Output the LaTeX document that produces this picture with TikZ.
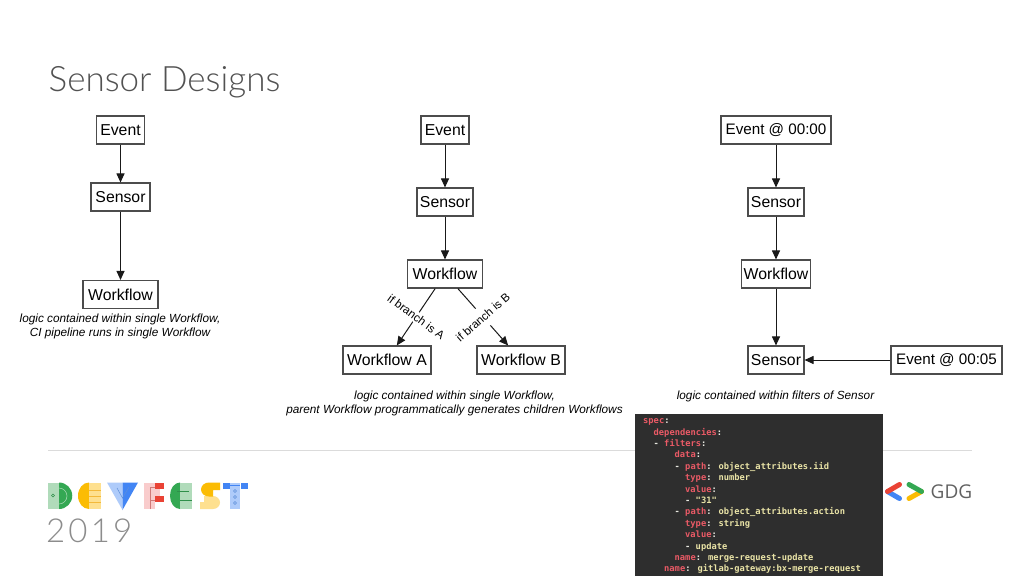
\documentclass[tikz,border=0pt]{standalone}
\usepackage{fontspec}
\setmainfont{Liberation Sans}
\newfontfamily\titlefont{Lato Light}
\newfontfamily\gdgfont{Open Sans}
\newfontfamily\codefont{DejaVu Sans Mono}
\usetikzlibrary{arrows.meta}
\definecolor{codebg}{HTML}{2E2E2E}
\definecolor{codekey}{HTML}{EA5A66}
\definecolor{codeval}{HTML}{E9E3A6}
\definecolor{codepun}{HTML}{E8E8E0}
\definecolor{gGreen}{HTML}{34A853}
\definecolor{gGreenL}{HTML}{B0DBBA}
\definecolor{gGreenD}{HTML}{2F8F4A}
\definecolor{gYellow}{HTML}{FBBC04}
\definecolor{gYellowL}{HTML}{FEE08F}
\definecolor{gYellowD}{HTML}{F3B93A}
\definecolor{gBlue}{HTML}{4285F4}
\definecolor{gBlueL}{HTML}{AECBFA}
\definecolor{gBlueD}{HTML}{5F8FD8}
\definecolor{gRed}{HTML}{EA4335}
\definecolor{gRedL}{HTML}{F9CCCC}
\definecolor{gRedD}{HTML}{D07A78}
\newcommand{\ck}[1]{\textcolor{codekey}{#1}}
\newcommand{\cv}[1]{\textcolor{codeval}{#1}}
\newcommand{\cp}[1]{\textcolor{codepun}{#1}}
\newcommand{\ind}[1]{\hspace*{#1em}}
\tikzset{
  boxn/.style={draw=black!70,line width=1.1pt,inner sep=0pt,minimum height=28pt,font=\fontsize{15.8}{18}\selectfont},
  boxw/.style={boxn,font=\fontsize{15.2}{18}\selectfont},
  arr/.style={line width=1pt,draw=black!90,-{Triangle[length=9pt,width=8pt]}},
  capt/.style={font=\fontsize{11.8}{14}\selectfont\itshape,align=center,inner sep=0pt},
  brl/.style={font=\fontsize{11.6}{14}\selectfont,fill=white,inner sep=0pt,text depth=0pt},
}
\begin{document}
\begin{tikzpicture}[x=1pt,y=-1pt]
\useasboundingbox[fill=white] (0,0) rectangle (1024,576);
\node[anchor=west,inner sep=0pt,text=black!68,font=\fontsize{35}{40}\titlefont] (title) at (48.5,82.5) {Sensor Designs};

% rule
\coordinate (ruleL) at (48,450.5);
\coordinate (ruleR) at (972,450.5);
\draw[black!14,line width=1pt] (ruleL) -- (ruleR);

% column 1
\node[boxn,minimum width=48pt] (a1) at (120.5,130) {Event};
\node[boxn,minimum width=59pt] (a2) at (120.5,197) {Sensor};
\node[boxn,minimum width=75pt] (a3) at (120.5,294.5) {Workflow};
\draw[arr] (a1) -- (a2);
\draw[arr] (a2) -- (a3);
\node[capt] (capa) at (120,326.5) {logic contained within single Workflow,\\CI pipeline runs in single Workflow};

% column 2
\node[boxn,minimum width=48pt] (b1) at (445,130) {Event};
\node[boxn,minimum width=56pt] (b2) at (445,202) {Sensor};
\node[boxn,minimum width=75pt] (b3) at (445,274) {Workflow};
\node[boxn,minimum width=88pt] (b4) at (387,360) {Workflow A};
\node[boxn,minimum width=88pt] (b5) at (521,360) {Workflow B};
\draw[arr] (b1) -- (b2);
\draw[arr] (b2) -- (b3);
\draw[arr] (b3) -- node[brl,rotate=41,minimum height=22pt] {if branch is B} (b5);
\draw[arr] (b3) -- node[brl,rotate=-36,text height=8pt,minimum height=11pt] {if branch is A} (b4);
\node[capt] (capb) at (454.5,403.5) {logic contained within single Workflow,\\parent Workflow programmatically generates children Workflows};

% column 3
\node[boxw,minimum width=110pt] (c1) at (776,130) {Event @ 00:00};
\node[boxn,minimum width=56pt] (c2) at (776,202) {Sensor};
\node[boxn,minimum width=69pt] (c3) at (776,274) {Workflow};
\node[boxn,minimum width=56pt] (c4) at (776,360) {Sensor};
\node[boxw,minimum width=111pt] (c5) at (946.5,360) {Event @ 00:05};
\draw[arr] (c1) -- (c2);
\draw[arr] (c2) -- (c3);
\draw[arr] (c3) -- (c4);
\draw[arr] (c5) -- (c4);
\node[capt] (capc) at (775.5,396.5) {logic contained within filters of Sensor};

% code panel
\fill[codebg] (635,414) rectangle (883,576);
\node[anchor=north west,inner sep=0pt,align=left,font=\fontsize{8.75}{11.4}\codefont\bfseries] (code) at (643,418.5) {%
\ck{spec}\cp{:}\\
\ind{1.2}\ck{dependencies}\cp{:}\\
\ind{1.2}\cp{-} \ck{filters}\cp{:}\\
\ind{3.6}\ck{data}\cp{:}\\
\ind{3.6}\cp{-} \ck{path}\cp{:} \cv{object\_attributes.iid}\\
\ind{4.8}\ck{type}\cp{:} \cv{number}\\
\ind{4.8}\ck{value}\cp{:}\\
\ind{4.8}\cp{-} \cv{"31"}\\
\ind{3.6}\cp{-} \ck{path}\cp{:} \cv{object\_attributes.action}\\
\ind{4.8}\ck{type}\cp{:} \cv{string}\\
\ind{4.8}\ck{value}\cp{:}\\
\ind{4.8}\cp{-} \cv{update}\\
\ind{3.6}\ck{name}\cp{:} \cv{merge-request-update}\\
\ind{2.4}\ck{name}\cp{:} \cv{gitlab-gateway:bx-merge-request}};

% DevFest logo
% D
\fill[gGreenL] (48,482.5) rectangle (59,509);
\fill[gGreen] (59,482.5) arc (-90:90:13.25) -- cycle;
\draw[gGreenL,line width=0.5pt] (59,488) arc (-90:90:8);
\draw[gGreenD,line width=0.4pt] (53,495.5) circle (1.5);
% E
\fill[gYellow] (89,482.5) arc (270:90:11 and 13.25) -- cycle;
\fill[gYellowL] (89,482.5) rectangle (101,509);
\draw[gYellowD,line width=0.6pt] (89,490)--(101,490) (89,496)--(101,496) (89,502)--(101,502);
% V
\fill[gBlueL] (107,482.5) -- (122.5,482.5) -- (122.5,510) -- cycle;
\fill[gBlue] (138,482.5) -- (122.5,482.5) -- (122.5,510) -- cycle;
\draw[gBlueD,line width=0.5pt] (117,488) -- (122.5,498) -- (129,487);
% F
\fill[gRedL] (144,482.5) rectangle (155,509);
\fill[gRedL] (155,489) rectangle (160,496);
\fill[gRed] (155,482.5) rectangle (164,489);
\fill[gRed] (155,496) rectangle (164,502);
\draw[gRedD,line width=0.5pt] (150,509) -- (150,487) -- (155,487) (150,500) -- (155,500);
% E
\fill[gGreen] (180,482.5) arc (270:90:10 and 13.25) -- cycle;
\fill[gGreenL] (180,482.5) rectangle (192,509);
\draw[gGreenD,line width=0.5pt] (177,491) -- (189,491) (180,500) -- (192,500);
% S
\fill[gYellowL] (200,502) -- (204,502) -- (204,496) -- (213,496) arc (-90:90:7 and 6.5) -- (200,509) -- cycle;
\fill[gYellow] (220,482.5) -- (209,482.5) arc (270:90:8 and 7) -- (213,496.5) -- (213,490) -- (220,490) -- cycle;
% T
\fill[gBlueL] (230,482.5) rectangle (240,509);
\fill[gBlue] (223,482.5) rectangle (230,489);
\fill[gBlue] (240.5,482.5) rectangle (248,489);
\draw[gBlue,line width=0.5pt] (230,485) -- (240,485);
\draw[gBlueD,line width=0.5pt] (235,491) circle (1.5) (235,497) circle (1.5) (235,503) circle (1.5);
\node[anchor=base west,inner sep=0pt,text=black!45,font=\fontsize{33}{36}\titlefont] (year) at (46,542) {2\hspace{3pt}0\hspace{3.5pt}1\hspace{3pt}9};

% GDG logo
\coordinate (gl) at (887.5,491.5);
\coordinate (gr) at (921.5,491.5);
\coordinate (gtl) at (899.5,484.5);
\coordinate (gbl) at (899.5,498.5);
\coordinate (gtr) at (909,484.5);
\coordinate (gbr) at (909,498.5);
\draw[gBlue,line width=5pt,line cap=round] (gl) -- (gbl);
\draw[gRed,line width=5pt,line cap=round] (gl) -- (gtl);
\draw[gYellow,line width=5pt,line cap=round] (gr) -- (gbr);
\draw[gGreen,line width=5pt,line cap=round] (gr) -- (gtr);
\node[anchor=west,inner sep=0pt,text=black!62,font=\fontsize{19}{22}\gdgfont] (gdg) at (930.5,491.5) {GDG};
\end{tikzpicture}
\end{document}
